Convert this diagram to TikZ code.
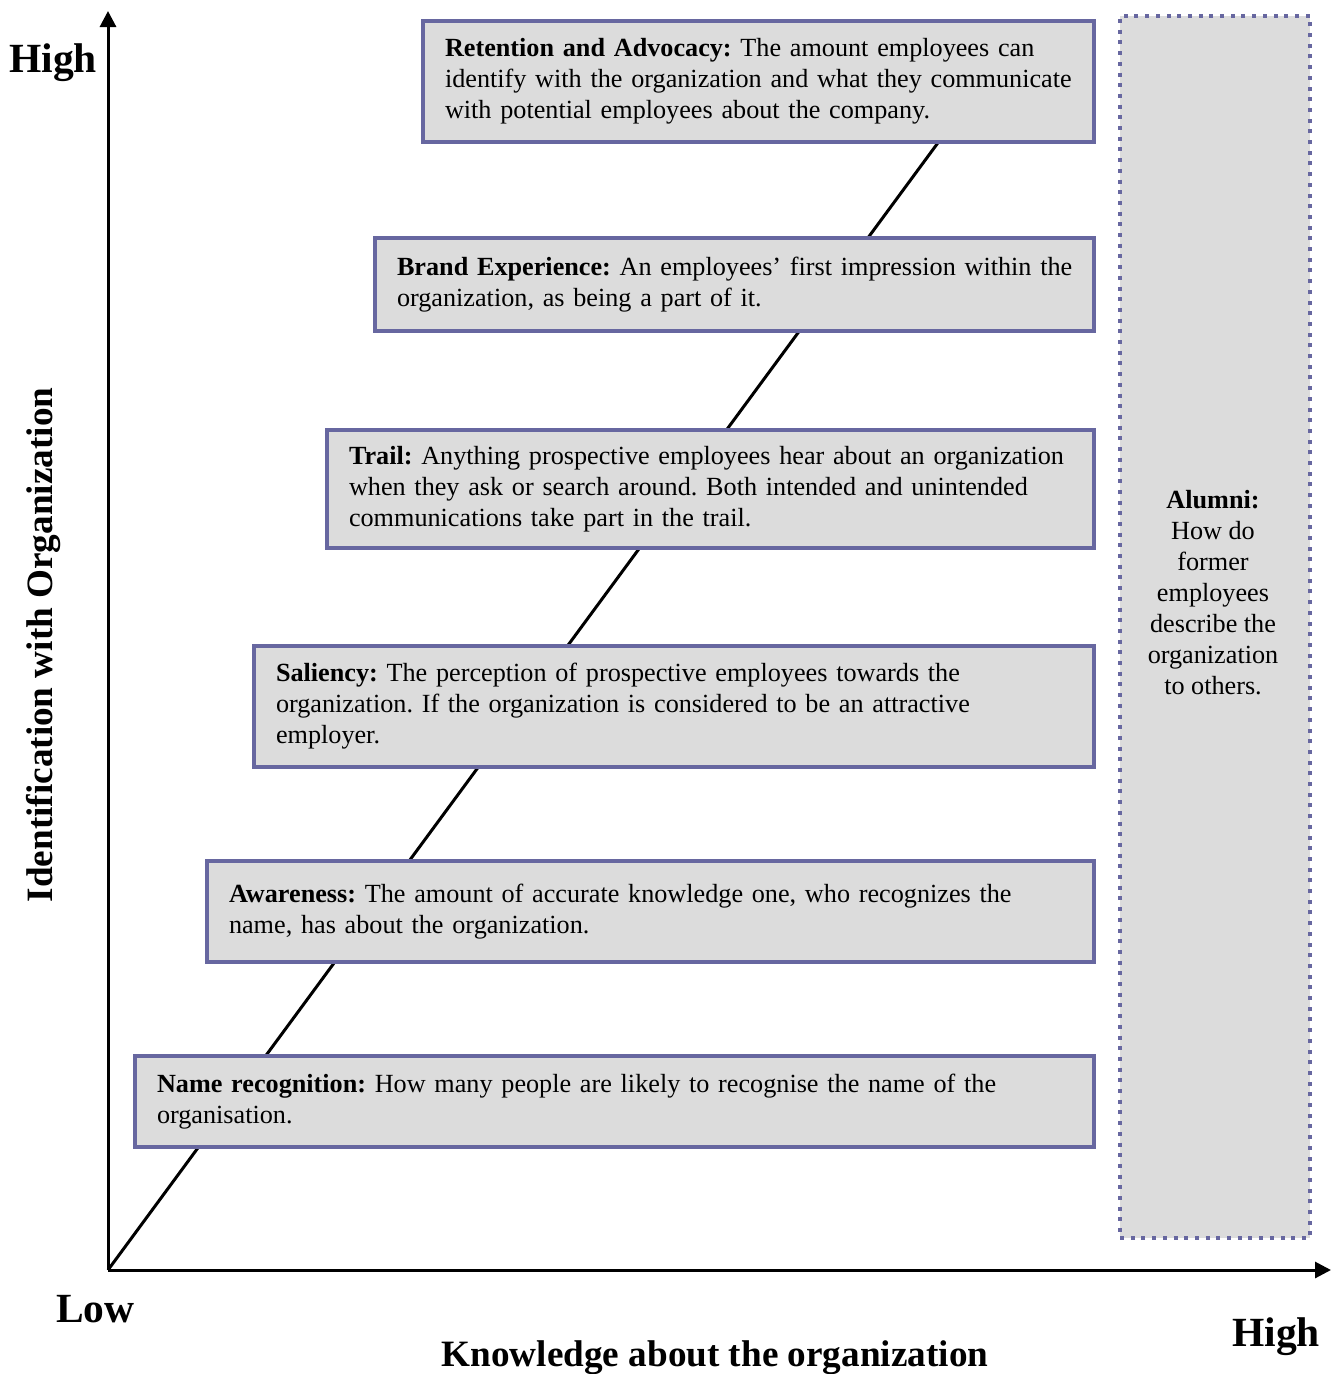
\documentclass[tikz,border=0pt]{standalone}
\usepackage{fontspec}
\setmainfont{Liberation Serif}
\usetikzlibrary{arrows.meta}
\definecolor{boxline}{HTML}{6767A0}
\definecolor{boxfill}{HTML}{DCDCDC}
\frenchspacing
% one unbreakable line of box text
\newcommand{\boxline}[1]{\mbox{#1}}
\begin{document}
\begin{tikzpicture}[x=1pt,y=-1pt,
  stagebox/.style={draw=boxline, fill=boxfill, line width=4pt, anchor=north west,
    inner xsep=22pt, inner ysep=2pt, align=left,
    font=\fontsize{26.2}{31}\selectfont},
  alumnibox/.style={draw=boxline, fill=boxfill, line width=4pt,
    dash pattern=on 4pt off 6.7pt, anchor=north west, inner sep=0pt},
  axis/.style={line width=3pt, -{Triangle[length=16pt,width=16pt]}},
  axislabel/.style={font=\fontsize{41.5}{46}\selectfont\bfseries},
  titlelabel/.style={font=\fontsize{37.2}{42}\selectfont\bfseries}]
\useasboundingbox (0,0) rectangle (1331,1374);

% origin and axes
\coordinate (origin) at (108,1270);
\coordinate (ytop) at (108,11);
\coordinate (xend) at (1331,1270);
\draw[axis] (origin) -- (ytop);
\draw[axis] (origin) -- (xend);

% rising line, drawn first so that the boxes cover it
\coordinate (linetop) at (940,140);
\draw[line width=3pt] (origin) -- (linetop);

% stage boxes
\node[stagebox, text width=627pt, minimum height=121pt] (retention) at (421,19)
  {\boxline{\textbf{Retention and Advocacy:} The amount employees can}\\\boxline{identify with the organization and what they communicate}\\\boxline{with potential employees about the company.}};
\node[stagebox, text width=675pt, minimum height=93pt] (brand) at (373,236)
  {\boxline{\textbf{Brand Experience:} An employees' first impression within the}\\\boxline{organization, as being a part of it.}};
\node[stagebox, text width=723pt, minimum height=118pt] (trail) at (325,428)
  {\boxline{\textbf{Trail:} Anything prospective employees hear about an organization}\\\boxline{when they ask or search around. Both intended and unintended}\\\boxline{communications take part in the trail.}};
\node[stagebox, text width=796pt, minimum height=121pt] (saliency) at (252,644)
  {\boxline{\textbf{Saliency:} The perception of prospective employees towards the}\\\boxline{organization. If the organization is considered to be an attractive}\\\boxline{employer.}};
\node[stagebox, text width=843pt, minimum height=101pt] (awareness) at (205,859)
  {\boxline{\textbf{Awareness:} The amount of accurate knowledge one, who recognizes the}\\\boxline{name, has about the organization.}};
\node[stagebox, text width=915pt, minimum height=91pt] (namerec) at (133,1054)
  {\boxline{\textbf{Name recognition:} How many people are likely to recognise the name of the}\\\boxline{organisation.}};

% alumni column
\node[alumnibox, minimum width=190pt, minimum height=1222pt] (alumni) at (1118,14) {};
\node[align=center, font=\fontsize{26.2}{31}\selectfont] (alumnitext) at (1213,593)
  {\textbf{Alumni:}\\How do\\former\\employees\\describe the\\organization\\to others.};

% axis labels
\node[axislabel, anchor=base west, inner sep=0pt] (yhigh) at (9,72) {High};
\node[axislabel, anchor=base west, inner sep=0pt] (xlow) at (56,1322) {Low};
\node[axislabel, anchor=base west, inner sep=0pt] (xhigh) at (1232,1346) {High};
\node[titlelabel, anchor=base, inner sep=0pt] (xtitle) at (715,1366) {Knowledge about the organization};
\node[titlelabel, rotate=90, anchor=base, inner sep=0pt] (ytitle) at (52,645) {Identification with Organization};
\end{tikzpicture}
\end{document}
